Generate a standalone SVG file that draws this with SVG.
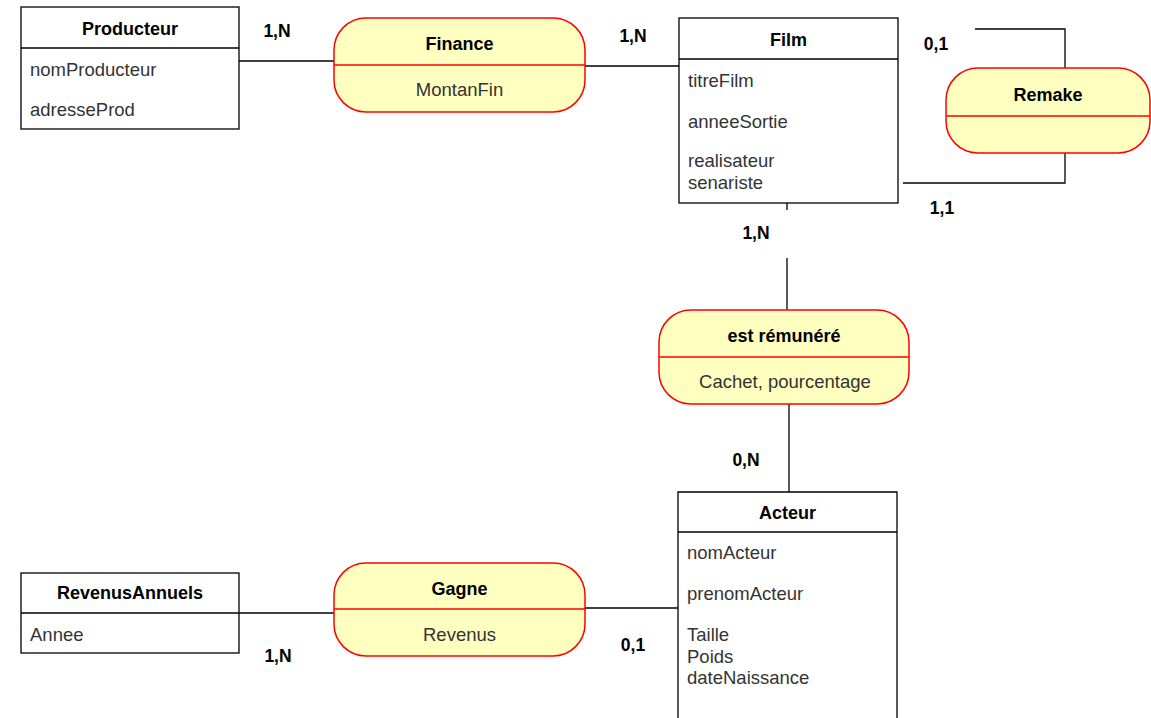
<svg xmlns="http://www.w3.org/2000/svg" width="1151" height="718" viewBox="0 0 1151 718">
<style>
.ent{fill:#ffffff;stroke:#000000;stroke-width:1.3}
.rel{fill:#ffffc0;stroke:#ff0000;stroke-width:1.5}
.rline{stroke:#ff0000;stroke-width:1.3}
.eline{stroke:#000000;stroke-width:1.3}
.conn{fill:none;stroke:#000000;stroke-width:1.3}
.t{font-family:"Liberation Sans",Arial,sans-serif;font-size:18px;font-weight:bold;fill:#000000}
.a{font-family:"Liberation Sans",Arial,sans-serif;font-size:18.5px;fill:#333333}
.c{font-family:"Liberation Sans",Arial,sans-serif;font-size:17.5px;font-weight:bold;fill:#000000}
.mid{text-anchor:middle}
</style>
<rect width="1151" height="718" fill="#ffffff"/>
<g id="connectors">
<path class="conn" d="M239,61 H334"/>
<path class="conn" d="M585,66 H679"/>
<path class="conn" d="M975,29 H1065 V68"/>
<path class="conn" d="M1065,153 V183 H903"/>
<path class="conn" d="M787,203 V210"/>
<path class="conn" d="M787,258 V310"/>
<path class="conn" d="M789,404 V492"/>
<path class="conn" d="M585,608 H678"/>
<path class="conn" d="M239,613 H334"/>
</g>
<g id="labels">
<text class="c mid" x="277" y="37">1,N</text>
<text class="c mid" x="633" y="42">1,N</text>
<text class="c mid" x="936" y="50">0,1</text>
<text class="c mid" x="942" y="214">1,1</text>
<text class="c mid" x="756" y="239">1,N</text>
<text class="c mid" x="746" y="466">0,N</text>
<text class="c mid" x="278" y="662">1,N</text>
<text class="c mid" x="633" y="651">0,1</text>
</g>
<g id="Producteur">
<rect class="ent" x="21" y="7" width="218" height="122"/>
<line class="eline" x1="21" y1="48" x2="239" y2="48"/>
<text class="t mid" x="130" y="35">Producteur</text>
<text class="a" x="30" y="76">nomProducteur</text>
<text class="a" x="30" y="116">adresseProd</text>
</g>
<g id="Finance">
<rect class="rel" x="334" y="18" width="251" height="94" rx="32" ry="32"/>
<line class="rline" x1="334" y1="65" x2="585" y2="65"/>
<text class="t mid" x="459.5" y="50">Finance</text>
<text class="a mid" x="459.5" y="96">MontanFin</text>
</g>
<g id="Film">
<rect class="ent" x="679" y="18" width="219" height="185"/>
<line class="eline" x1="679" y1="59" x2="898" y2="59"/>
<text class="t mid" x="788.5" y="46">Film</text>
<text class="a" x="688" y="87">titreFilm</text>
<text class="a" x="688" y="128">anneeSortie</text>
<text class="a" x="688" y="167">realisateur</text>
<text class="a" x="688" y="189">senariste</text>
</g>
<g id="Remake">
<rect class="rel" x="946" y="68" width="204" height="85" rx="32" ry="32"/>
<line class="rline" x1="946" y1="116" x2="1150" y2="116"/>
<text class="t mid" x="1048" y="101">Remake</text>
</g>
<g id="est_remunere">
<rect class="rel" x="659" y="310" width="250" height="94" rx="32" ry="32"/>
<line class="rline" x1="659" y1="357" x2="909" y2="357"/>
<text class="t mid" x="784" y="342">est rémunéré</text>
<text class="a mid" x="785" y="388">Cachet, pourcentage</text>
</g>
<g id="Acteur">
<path class="ent" d="M678,720 V492 H897 V720"/>
<line class="eline" x1="678" y1="532" x2="897" y2="532"/>
<text class="t mid" x="787.5" y="519">Acteur</text>
<text class="a" x="687" y="559">nomActeur</text>
<text class="a" x="687" y="600">prenomActeur</text>
<text class="a" x="687" y="641">Taille</text>
<text class="a" x="687" y="663">Poids</text>
<text class="a" x="687" y="684">dateNaissance</text>
</g>
<g id="RevenusAnnuels">
<rect class="ent" x="21" y="573" width="218" height="80"/>
<line class="eline" x1="21" y1="613" x2="239" y2="613"/>
<text class="t mid" x="130" y="599">RevenusAnnuels</text>
<text class="a" x="30" y="641">Annee</text>
</g>
<g id="Gagne">
<rect class="rel" x="334" y="563" width="251" height="93" rx="32" ry="32"/>
<line class="rline" x1="334" y1="609" x2="585" y2="609"/>
<text class="t mid" x="459.5" y="595">Gagne</text>
<text class="a mid" x="459.5" y="641">Revenus</text>
</g>
</svg>
